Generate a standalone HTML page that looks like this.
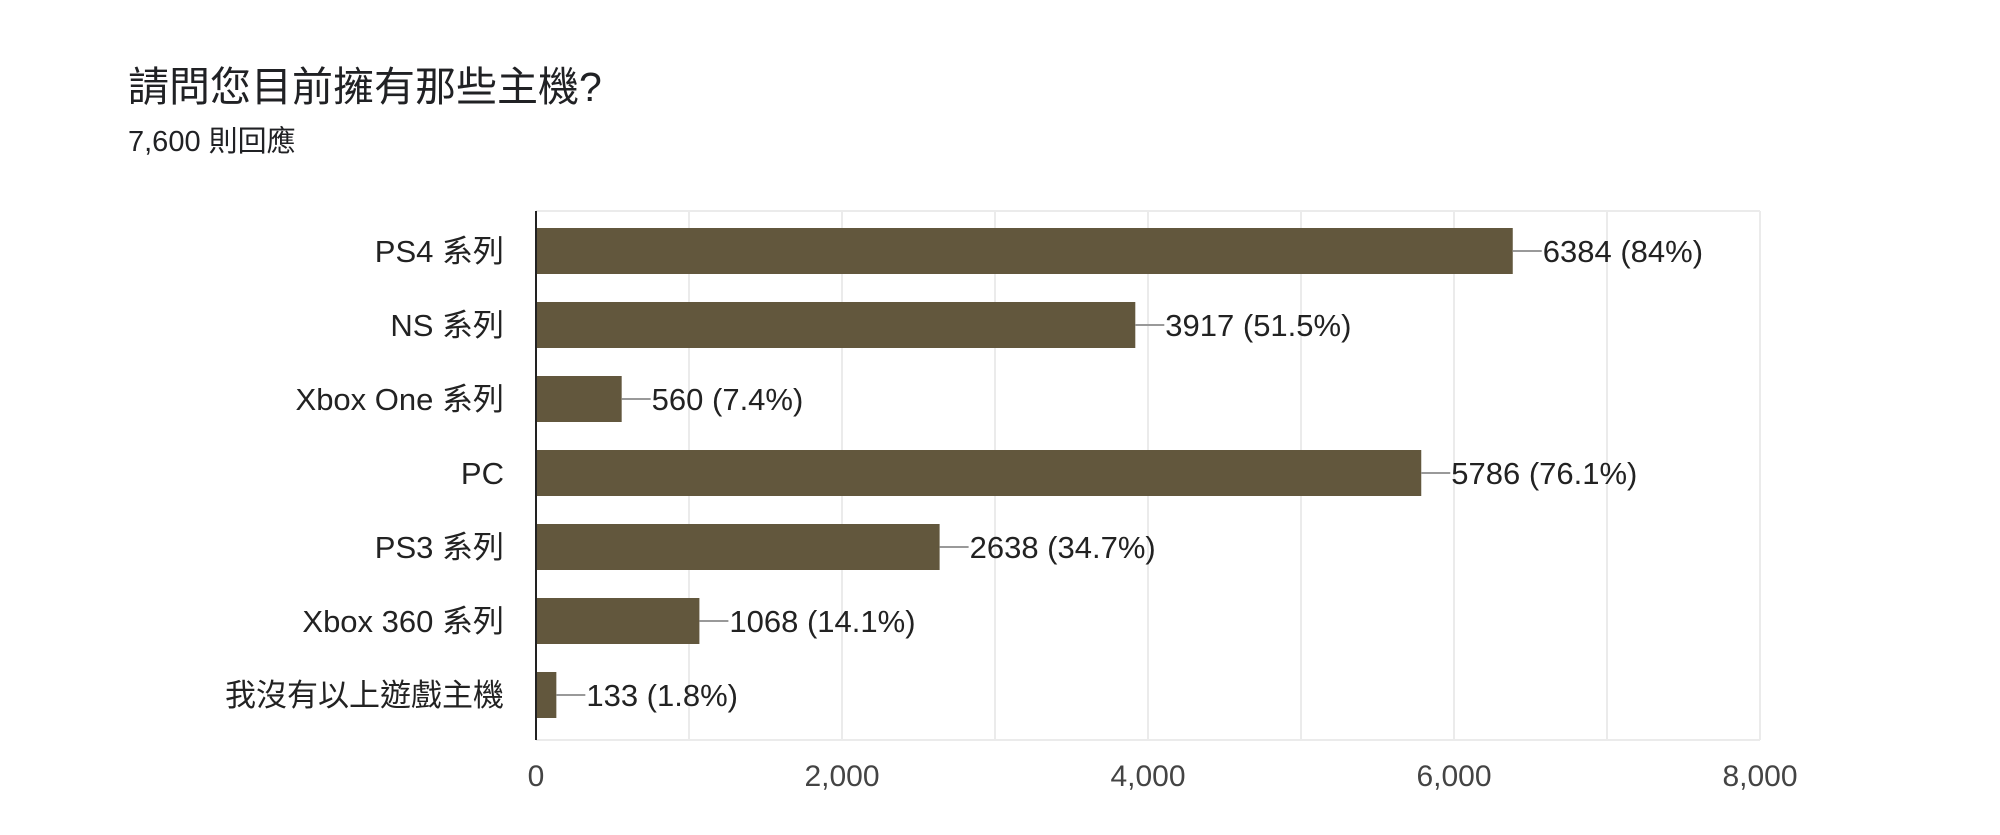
<!DOCTYPE html>
<html><head><meta charset="utf-8"><style>
body{margin:0;background:#fff;width:2000px;height:830px;overflow:hidden;font-family:"Liberation Sans","Noto Sans CJK TC",sans-serif;}
</style></head><body>
<svg width="2000" height="830" font-family="Liberation Sans, Noto Sans CJK TC, sans-serif">
<text x="128" y="101" font-size="41" fill="#202124">請問您目前擁有那些主機?</text>
<text x="128" y="151" font-size="29" fill="#202124">7,600 則回應</text>
<g id="grid"></g><g id="bars"></g><g id="labels"></g>
</svg>
<script>
const categories=["PS4 系列","NS 系列","Xbox One 系列","PC","PS3 系列","Xbox 360 系列","我沒有以上遊戲主機"];
const values=[6384,3917,560,5786,2638,1068,133];
const valueLabels=["6384 (84%)","3917 (51.5%)","560 (7.4%)","5786 (76.1%)","2638 (34.7%)","1068 (14.1%)","133 (1.8%)"];
const ticks=[0,2000,4000,6000,8000];
const tickLabels=["0","2,000","4,000","6,000","8,000"];
const NS="http://www.w3.org/2000/svg";
const L=536,R=1760,T=211,B=740,MAX=8000,step=74,first=251,bh=46;
const x=v=>L+(R-L)*v/MAX;
const y=i=>first+i*step;
function mk(t,a,p){const e=document.createElementNS(NS,t);for(const k in a)e.setAttribute(k,a[k]);p.appendChild(e);return e;}
const g=document.getElementById('grid'),b=document.getElementById('bars'),lb=document.getElementById('labels');
for(let v=1000;v<=MAX;v+=1000){const l=mk('line',{x1:x(v),x2:x(v),y1:T,y2:B,stroke:'#ebebeb','stroke-width':2},g);

}
const tl=mk('line',{x1:L,x2:R,y1:T,y2:T,stroke:'#ebebeb','stroke-width':2},g);


const bl=mk('line',{x1:L,x2:R,y1:B,y2:B,stroke:'#ebebeb','stroke-width':2},g);


ticks.forEach((v,i)=>{const t=mk('text',{x:x(v),y:786,'font-size':30,fill:'#444','text-anchor':'middle'},lb);t.textContent=tickLabels[i];

});
categories.forEach((c,i)=>{
 const cy=y(i);
 const r=mk('rect',{x:L,y:cy-bh/2,width:x(values[i])-L,height:bh,fill:'#62573d'},b);
 
 
 const ln=mk('line',{x1:x(values[i]),x2:x(values[i])+29,y1:cy,y2:cy,stroke:'#999','stroke-width':2},b);
 
 
 const vt=mk('text',{x:x(values[i])+30,y:cy+11,'font-size':31,fill:'#222'},lb);vt.textContent=valueLabels[i];
 
 
 const ct=mk('text',{x:504,y:cy+11,'font-size':31,fill:'#222','text-anchor':'end'},lb);ct.textContent=c;
 
 
});
const ax=mk('line',{x1:L,x2:L,y1:T,y2:B,stroke:'#222','stroke-width':2},lb);


</script>
</body></html>
